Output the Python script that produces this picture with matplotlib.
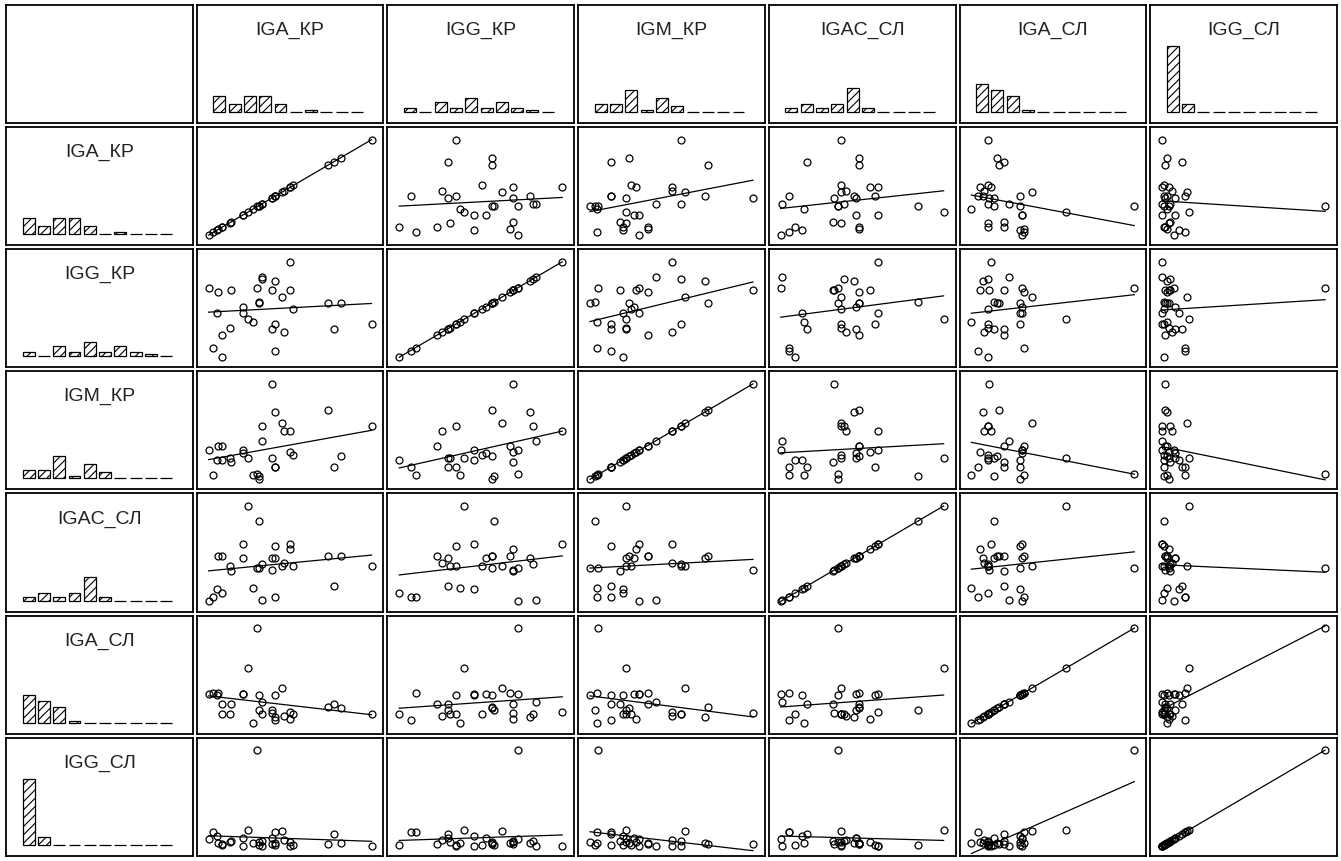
import matplotlib
matplotlib.use("Agg")

import matplotlib.pyplot as plt
import numpy as np

# variable names (Cyrillic КР / СЛ)
labels = ["IGA_КР", "IGG_КР", "IGM_КР", "IGAC_СЛ", "IGA_СЛ", "IGG_СЛ"]

iga_kr = [1.00, 0.77, 0.81, 0.73, 0.52, 0.50, 0.50, 0.41, 0.46, 0.39, 0.41,
          0.45, 0.39, 0.41, 0.33, 0.33, 0.27, 0.24, 0.31, 0.31, 0.30, 0.21,
          0.21, 0.08, 0.03, 0.08, 0.13, 0.05, 0.06, 0.14, 0.00]
igg_kr = [0.35, 0.30, 0.57, 0.57, 0.51, 0.70, 1.00, 0.07, 0.26, 0.30, 0.35,
          0.63, 0.70, 0.80, 0.82, 0.84, 0.37, 0.40, 0.57, 0.58, 0.73, 0.46,
          0.53, 0.00, 0.10, 0.23, 0.31, 0.46, 0.68, 0.70, 0.73]
igm_kr = [0.55, 0.13, 0.24, 0.72, 0.25, 0.28, 0.50, 0.13, 0.50, 0.22, 0.13,
          0.58, 0.99, 0.70, 0.55, 0.40, 0.04, 0.22, 0.00, 0.03, 0.05, 0.30,
          0.27, 0.20, 0.04, 0.35, 0.22, 0.20, 0.35, 0.18, 0.30]
igac_sl = [0.37, 0.16, 0.48, 0.48, 0.37, 0.55, 0.60, 0.05, 0.40, 0.46, 0.58,
           0.37, 0.33, 0.45, 0.39, 0.01, 0.14, 1.00, 0.35, 0.84, 0.35, 0.60,
           0.46, 0.09, 0.05, 0.48, 0.37, 0.13, 0.48, 0.32, 0.00]
iga_sl = [0.10, 0.20, 0.16, 0.17, 0.10, 0.05, 0.12, 0.04, 0.08, 0.14, 0.30,
          0.37, 0.11, 0.07, 0.10, 0.23, 0.00, 0.58, 0.30, 0.14, 1.00, 0.31,
          0.31, 0.10, 0.32, 0.20, 0.10, 0.30, 0.32, 0.20, 0.31]
igg_sl = [0.02, 0.14, 0.05, 0.04, 0.03, 0.06, 0.02, 0.16, 0.08, 0.10, 0.03,
          0.17, 0.04, 0.05, 0.07, 0.02, 0.05, 0.18, 0.06, 0.03, 1.00, 0.02,
          0.10, 0.03, 0.16, 0.04, 0.06, 0.12, 0.05, 0.07, 0.09]

# histogram counts per bin, as drawn in the header cells (10 bins)
hist_iga_kr = [8, 4, 8, 8, 4, 0, 1, 0, 0, 0]
hist_igg_kr = [2, 0, 5, 2, 7, 2, 5, 2, 1, 0]
hist_igm_kr = [4, 4, 11, 1, 7, 3, 0, 0, 0, 0]
hist_igac_sl = [2, 4, 2, 4, 12, 2, 0, 0, 0, 0]
hist_iga_sl = [14, 11, 8, 1, 0, 0, 0, 0, 0, 0]
hist_igg_sl = [33, 4, 0, 0, 0, 0, 0, 0, 0, 0]

columns = [iga_kr, igg_kr, igm_kr, igac_sl, iga_sl, igg_sl]
hists = [hist_iga_kr, hist_igg_kr, hist_igm_kr, hist_igac_sl, hist_iga_sl, hist_igg_sl]

plt.rcParams["font.family"] = ["Liberation Sans", "DejaVu Sans"]
plt.rcParams["hatch.linewidth"] = 0.8

W, H = 1341, 862
fig = plt.figure(figsize=(W / 100, H / 100), dpi=100)

X0, Y0 = 6, 6
CW, CH, GAP = 186.7, 118.1, 4


def px_axes(x, y, w, h):
    """Axes placed in pixel coords measured from the top-left corner."""
    return fig.add_axes([x / W, 1 - (y + h) / H, w / W, h / H])


def cell(row, col):
    ax = px_axes(X0 + col * (CW + GAP), Y0 + row * (CH + GAP), CW, CH)
    ax.set_xticks([])
    ax.set_yticks([])
    for s in ax.spines.values():
        s.set_linewidth(1.3)
    return ax


def header(row, col, k):
    ax = cell(row, col)
    ax.text(0.5, 1 - 16 / CH, labels[k], transform=ax.transAxes,
            ha="center", va="top", fontsize=14, color="#222222")
    x = X0 + col * (CW + GAP)
    y = Y0 + row * (CH + GAP)
    hax = px_axes(x + 0.08 * CW, y + CH - 11 - 80, 0.82 * CW, 80)
    hax.bar(np.arange(10), hists[k], width=0.78, facecolor="white",
            edgecolor="black", hatch="////", linewidth=0.9, clip_on=False)
    hax.set_xlim(-0.5, 9.5)
    hax.set_ylim(0, 40)
    hax.axis("off")


# empty corner
cell(0, 0)

for k in range(6):
    header(0, k + 1, k)
    header(k + 1, 0, k)

# scatter cells: row variable on y, column variable on x
for i in range(6):
    for j in range(6):
        ax = cell(i + 1, j + 1)
        x = np.asarray(columns[j])
        y = np.asarray(columns[i])
        ax.plot(x, y, "o", ms=5, mfc="none", mec="black", mew=0.9)
        slope, icpt = np.polyfit(x, y, 1)
        xs = np.array([x.min(), x.max()])
        ax.plot(xs, icpt + slope * xs, color="black", lw=0.9)
        rx = x.max() - x.min()
        ry = y.max() - y.min()
        ax.set_xlim(x.min() - 0.073 * rx, x.max() + 0.073 * rx)
        ax.set_ylim(y.min() - 0.106 * ry, y.max() + 0.132 * ry)

fig.savefig("out.png", dpi=100, facecolor="white")
plt.close(fig)
